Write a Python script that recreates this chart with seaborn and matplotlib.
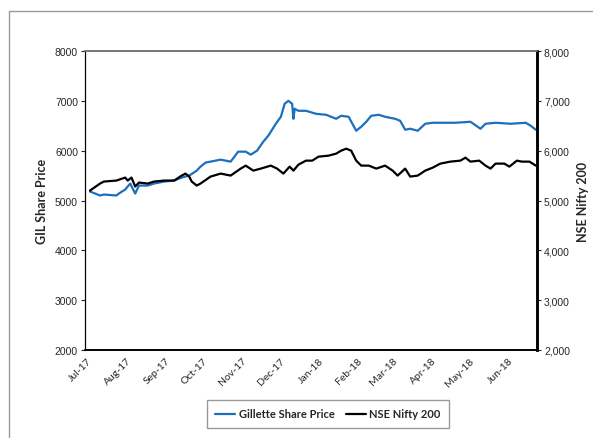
import pandas as pd
import matplotlib.pyplot as plt
import matplotlib.dates as mdates
import matplotlib.ticker as mticker
from matplotlib.patches import Rectangle
from matplotlib.lines import Line2D
import seaborn as sns

# Gillette India share price (left axis)
gil_dates = ['2017-07-03', '2017-07-11', '2017-07-14', '2017-07-24', '2017-07-26', '2017-07-31',
             '2017-08-04', '2017-08-08', '2017-08-11', '2017-08-18', '2017-08-23', '2017-08-31',
             '2017-09-08', '2017-09-14', '2017-09-20', '2017-09-26', '2017-09-29', '2017-10-03',
             '2017-10-07', '2017-10-15', '2017-10-23', '2017-10-29', '2017-11-04', '2017-11-08',
             '2017-11-13', '2017-11-18', '2017-11-22', '2017-11-28', '2017-12-02', '2017-12-05',
             '2017-12-08', '2017-12-11', '2017-12-12', '2017-12-13', '2017-12-16', '2017-12-22',
             '2017-12-30', '2018-01-07', '2018-01-15', '2018-01-19', '2018-01-25', '2018-01-31',
             '2018-02-04', '2018-02-08', '2018-02-12', '2018-02-18', '2018-02-23', '2018-03-03',
             '2018-03-07', '2018-03-11', '2018-03-15', '2018-03-21', '2018-03-27', '2018-04-02',
             '2018-04-08', '2018-04-20', '2018-05-02', '2018-05-10', '2018-05-14', '2018-05-22',
             '2018-06-03', '2018-06-15', '2018-06-19', '2018-06-23']
gil_price = [5180, 5100, 5120, 5100, 5140, 5220,
             5340, 5140, 5300, 5300, 5340, 5380,
             5400, 5460, 5500, 5600, 5680, 5760,
             5780, 5820, 5780, 5980, 5980, 5920,
             6000, 6180, 6300, 6540, 6680, 6940,
             7000, 6940, 6640, 6840, 6800, 6800,
             6740, 6720, 6640, 6700, 6680, 6400,
             6480, 6580, 6700, 6720, 6680, 6640,
             6600, 6420, 6440, 6400, 6540, 6560,
             6560, 6560, 6580, 6440, 6540, 6560,
             6540, 6560, 6500, 6420]

# NSE Nifty 200 (right axis)
nifty_dates = ['2017-07-03', '2017-07-11', '2017-07-14', '2017-07-24', '2017-07-31', '2017-08-02',
               '2017-08-05', '2017-08-08', '2017-08-11', '2017-08-18', '2017-08-23', '2017-08-31',
               '2017-09-08', '2017-09-14', '2017-09-17', '2017-09-20', '2017-09-22', '2017-09-26',
               '2017-09-29', '2017-10-07', '2017-10-15', '2017-10-23', '2017-10-31', '2017-11-04',
               '2017-11-10', '2017-11-16', '2017-11-24', '2017-11-29', '2017-12-04', '2017-12-09',
               '2017-12-12', '2017-12-16', '2017-12-22', '2017-12-27', '2018-01-01', '2018-01-09',
               '2018-01-15', '2018-01-19', '2018-01-23', '2018-01-27', '2018-01-31', '2018-02-04',
               '2018-02-10', '2018-02-16', '2018-02-23', '2018-03-01', '2018-03-05', '2018-03-11',
               '2018-03-15', '2018-03-21', '2018-03-27', '2018-04-02', '2018-04-08', '2018-04-16',
               '2018-04-24', '2018-04-28', '2018-05-02', '2018-05-09', '2018-05-14', '2018-05-18',
               '2018-05-22', '2018-05-29', '2018-06-02', '2018-06-08', '2018-06-12', '2018-06-18',
               '2018-06-23']
nifty_value = [5200, 5340, 5380, 5400, 5460, 5400,
               5460, 5280, 5360, 5340, 5380, 5400,
               5400, 5500, 5540, 5480, 5380, 5300,
               5340, 5480, 5540, 5500, 5640, 5700,
               5600, 5640, 5700, 5640, 5540, 5680,
               5600, 5720, 5800, 5800, 5880, 5900,
               5940, 6000, 6040, 6000, 5800, 5700,
               5700, 5640, 5700, 5600, 5500, 5640,
               5480, 5500, 5600, 5660, 5740, 5780,
               5800, 5860, 5780, 5800, 5700, 5640,
               5740, 5740, 5680, 5800, 5780, 5780,
               5700]

month_ticks = ['2017-07-01', '2017-08-01', '2017-09-01', '2017-10-01', '2017-11-01', '2017-12-01',
               '2018-01-01', '2018-02-01', '2018-03-01', '2018-04-01', '2018-05-01', '2018-06-01']

gil = pd.DataFrame({'date': pd.to_datetime(gil_dates), 'price': gil_price})
nifty = pd.DataFrame({'date': pd.to_datetime(nifty_dates), 'value': nifty_value})

sns.set_style('white')
plt.rcParams['font.family'] = ['Lato', 'DejaVu Sans']

blue = '#1c6fbd'

fig = plt.figure(figsize=(5.93, 4.39), dpi=100)
ax = fig.add_axes([85 / 593, 1 - 351 / 439, 452 / 593, 299 / 439])
ax2 = ax.twinx()

sns.lineplot(data=gil, x='date', y='price', ax=ax, color=blue, linewidth=1.6)
sns.lineplot(data=nifty, x='date', y='value', ax=ax2, color='black', linewidth=1.6)

ax.set_xlim(pd.Timestamp('2017-06-29'), pd.Timestamp('2018-06-24'))
for a in (ax, ax2):
    a.set_ylim(2000, 8000)
    a.yaxis.set_major_locator(mticker.MultipleLocator(1000))

ax.set_xticks(pd.to_datetime(month_ticks))
ax.xaxis.set_major_formatter(mdates.DateFormatter('%b-%y'))
for lbl in ax.get_xticklabels():
    lbl.set_rotation(45)
    lbl.set_ha('right')
    lbl.set_rotation_mode('anchor')
    lbl.set_fontsize(7.5)
ax.tick_params(axis='x', length=0, pad=4)

ax.tick_params(axis='y', direction='out', length=3, width=0.8, labelsize=7.5, pad=2, left=True)
ax2.tick_params(axis='y', direction='out', length=3, width=0.8, labelsize=7.5, pad=2, right=True)
for lbl in ax.get_yticklabels():
    lbl.set_family('Liberation Sans')
ax2.yaxis.set_major_formatter(mticker.StrMethodFormatter('{x:,.0f}'))
for lbl in ax2.get_yticklabels():
    lbl.set_family('Liberation Sans')

ax.set_xlabel('')
ax.set_ylabel('GIL Share Price', fontsize=9, fontweight='bold', labelpad=5)
ax2.set_ylabel('NSE Nifty 200', fontsize=9, fontweight='bold', labelpad=5)

for a in (ax, ax2):
    a.spines['top'].set_color('#777777')
    a.spines['top'].set_linewidth(1.2)
    a.spines['left'].set_color('black')
    a.spines['bottom'].set_color('black')
    a.spines['bottom'].set_linewidth(1.2)
    a.spines['right'].set_color('black')
    a.spines['right'].set_linewidth(1.8)
ax.grid(False)
ax2.grid(False)

handles = [Line2D([0], [0], color=blue, lw=1.6), Line2D([0], [0], color='black', lw=1.6)]
leg = fig.legend(handles, ['Gillette Share Price', 'NSE Nifty 200'], loc='center',
                 bbox_to_anchor=(328 / 593, 1 - 415 / 439), ncol=2, fancybox=False,
                 frameon=True, edgecolor='#808080', handlelength=1.8, handletextpad=0.3,
                 columnspacing=1.0, borderpad=0.8, prop={'weight': 'bold', 'size': 8})
leg.get_frame().set_linewidth(1.0)

# outer chart-area border
fig.patches.append(Rectangle((9 / 593, -0.1), 1.2, (439 - 12) / 439 + 0.1,
                             transform=fig.transFigure, fill=False,
                             edgecolor='#999999', linewidth=1.0))

fig.savefig('out.png', dpi=100)
